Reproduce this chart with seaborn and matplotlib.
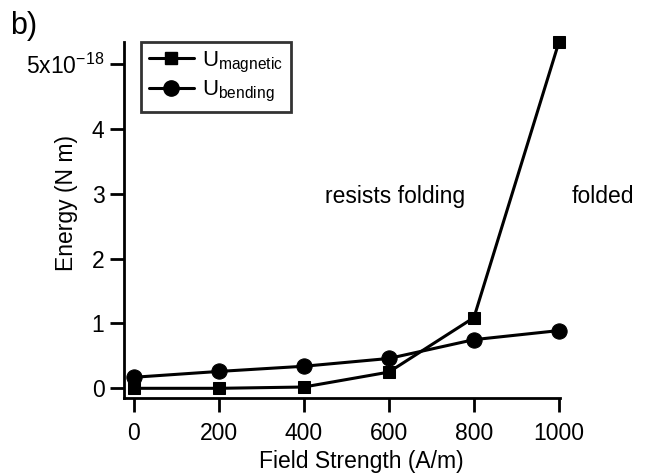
import pandas as pd
import seaborn as sns
import matplotlib.pyplot as plt
from matplotlib.lines import Line2D

# data (energy in units of 1e-18 N m)
field = [0, 200, 400, 600, 800, 1000]
u_magnetic = [0.0, 0.0, 0.02, 0.25, 1.09, 5.34]
u_bending = [0.17, 0.26, 0.34, 0.46, 0.75, 0.89]
ytick_vals = [0, 1, 2, 3, 4, 5]
ytick_labels = ['0', '1', '2', '3', '4', r'5x10$^{\mathregular{-18}}$']

df_mag = pd.DataFrame({'field': field, 'energy': u_magnetic})
df_bend = pd.DataFrame({'field': field, 'energy': u_bending})

sns.set_style('ticks')
plt.rcParams['font.family'] = ['Liberation Sans', 'DejaVu Sans']
plt.rcParams['mathtext.fontset'] = 'custom'
plt.rcParams['mathtext.rm'] = 'Liberation Sans'
plt.rcParams['axes.unicode_minus'] = False
plt.rcParams['text.color'] = 'black'
plt.rcParams['axes.labelcolor'] = 'black'
plt.rcParams['xtick.color'] = 'black'
plt.rcParams['ytick.color'] = 'black'
plt.rcParams['axes.edgecolor'] = 'black'

fig = plt.figure(figsize=(6.45, 4.75), dpi=100)
ax = fig.add_axes([0.192, 0.162, 0.676, 0.750])

sns.lineplot(data=df_mag, x='field', y='energy', ax=ax, color='black',
             lw=2.2, marker='s', markersize=9, markeredgecolor='black', clip_on=False)
sns.lineplot(data=df_bend, x='field', y='energy', ax=ax, color='black',
             lw=2.2, marker='o', markersize=11, markeredgecolor='black', clip_on=False)

ax.set_xlim(-23, 1002)
ax.set_ylim(-0.15, 5.34)
ax.set_xticks(field)
ax.set_yticks(ytick_vals)
ax.set_yticklabels(ytick_labels)
ax.tick_params(direction='out', length=10, width=2, labelsize=16.5)
ax.tick_params(axis='x', pad=7)
ax.tick_params(axis='y', pad=4)
for s in ['left', 'bottom']:
    ax.spines[s].set_linewidth(2)
sns.despine(ax=ax)

ax.set_xlabel('Field Strength (A/m)', fontsize=16.5)
ax.set_ylabel('Energy (N m)', fontsize=16.5)
ax.xaxis.set_label_coords(0.544, -0.145)
ax.yaxis.set_label_coords(-0.105, 0.548)

ax.text(615, 2.95, 'resists folding', fontsize=16.5, ha='center', va='center')
ax.text(1103, 2.95, 'folded', fontsize=16.5, ha='center', va='center', clip_on=False)
fig.text(0.016, 0.945, 'b)', fontsize=22, ha='left', va='center')

handles = [
    Line2D([], [], color='black', lw=2.2, marker='s', markersize=9),
    Line2D([], [], color='black', lw=2.2, marker='o', markersize=11),
]
labels = [r'U$_{\mathregular{magnetic}}$', r'U$_{\mathregular{bending}}$']
leg = ax.legend(handles, labels, loc='upper left', bbox_to_anchor=(0.04, 1.0),
                frameon=True, fancybox=False, fontsize=16, handlelength=2.0,
                handletextpad=0.4, borderpad=0.35, labelspacing=0.2,
                borderaxespad=0)
leg.get_frame().set_edgecolor('black')
leg.get_frame().set_linewidth(2)

fig.savefig('out.png', dpi=100)
